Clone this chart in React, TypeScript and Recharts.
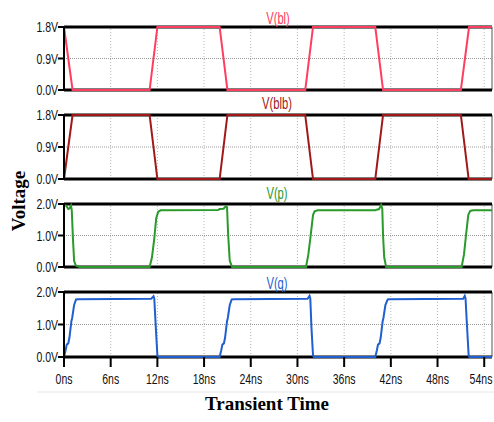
import React from 'react';
import { LineChart, Line, XAxis, YAxis, ReferenceLine } from 'recharts';

const xTicks = [0, 6, 12, 18, 24, 30, 36, 42, 48, 54];

const blTime = [0, 1.1, 11, 12, 20, 21, 31, 32, 40, 41, 51, 52.05, 55];
const blVolt = [1.8, 0, 0, 1.8, 1.8, 0, 0, 1.8, 1.8, 0, 0, 1.8, 1.8];

const blbTime = [0, 1.1, 11, 12, 20, 21, 31, 32, 40, 41, 51, 52, 55];
const blbVolt = [0, 1.8, 1.8, 0, 0, 1.8, 1.8, 0, 0, 1.8, 1.8, 0, 0];

const pTime = [0, 0.3, 0.55, 0.7, 0.9, 1.0, 1.15, 1.3, 1.5, 2.0, 11.0, 11.3, 11.6, 11.85, 12.1, 12.4, 19.8, 20.0, 20.5, 20.8, 20.95, 21.1, 21.3, 21.6, 31.1, 31.4, 31.7, 32.0, 32.2, 32.6, 40.0, 40.2, 40.5, 40.75, 40.9, 41.0, 41.15, 41.4, 51.1, 51.4, 51.7, 51.95, 52.2, 52.6, 55];
const pVolt = [1.97, 1.94, 1.84, 1.86, 1.95, 1.8, 0.9, 0.2, 0.05, 0, 0, 0.3, 0.9, 1.55, 1.75, 1.8, 1.81, 1.84, 1.85, 1.93, 1.9, 1.0, 0.2, 0, 0, 0.4, 1.0, 1.65, 1.77, 1.8, 1.8, 1.82, 1.84, 1.97, 1.85, 1.0, 0.3, 0, 0, 0.4, 1.1, 1.65, 1.78, 1.8, 1.8];

const qTime = [0, 0.2, 0.35, 0.55, 0.7, 0.95, 1.05, 1.3, 1.55, 1.8, 11.2, 11.5, 11.6, 11.8, 12.0, 12.1, 20.0, 20.2, 20.35, 20.55, 20.7, 20.95, 21.05, 21.3, 21.55, 21.8, 31.3, 31.55, 31.65, 31.8, 32.0, 32.1, 40.0, 40.2, 40.35, 40.55, 40.7, 40.95, 41.05, 41.3, 41.6, 41.8, 51.3, 51.5, 51.6, 51.8, 52.0, 52.1, 55];
const qVolt = [0, 0.2, 0.38, 0.42, 0.6, 1.1, 1.2, 1.6, 1.77, 1.78, 1.79, 1.87, 1.8, 0.9, 0.05, 0, 0, 0.2, 0.38, 0.42, 0.6, 1.1, 1.2, 1.6, 1.77, 1.78, 1.79, 1.88, 1.8, 0.9, 0.05, 0, 0, 0.2, 0.38, 0.42, 0.6, 1.1, 1.2, 1.6, 1.77, 1.78, 1.79, 1.88, 1.8, 0.9, 0.05, 0, 0];

const toData = (ts: number[], vs: number[]) => ts.map((t, i) => ({ t, v: vs[i] }));

const sansFont = "'Liberation Sans', Arial, sans-serif";
const serifFont = "'Liberation Serif', 'Times New Roman', serif";
const SQUEEZE = 0.7;

const XTick = (props: any) => {
  const { x, y, payload } = props;
  const cx = Math.min(x, 481);
  return (
    <g transform={`translate(${cx},${y})`}>
      <text transform={`scale(${SQUEEZE},1)`} textAnchor="middle" dy="0.71em" fill="#111" fontSize={15} fontFamily={sansFont}>
        {`${payload.value}ns`}
      </text>
    </g>
  );
};

const YTick = (props: any) => {
  const { x, y, payload } = props;
  return (
    <g transform={`translate(${x},${y})`}>
      <text transform={`scale(${SQUEEZE},1)`} textAnchor="end" dy="0.36em" fill="#111" fontSize={15} fontFamily={sansFont}>
        {`${Number(payload.value).toFixed(1)}V`}
      </text>
    </g>
  );
};

type PanelProps = {
  top: number;
  height: number;
  marginTop: number;
  marginBottom: number;
  data: { t: number; v: number }[];
  color: string;
  yMax: number;
  yTicks: number[];
  showX?: boolean;
};

const Panel = ({ top, height, marginTop, marginBottom, data, color, yMax, yTicks, showX }: PanelProps) => (
  <div style={{ position: 'absolute', left: 0, top, width: 494, height }}>
    <LineChart width={494} height={height} data={data} margin={{ top: marginTop, bottom: marginBottom, left: 8, right: 2 }}>
      <XAxis
        dataKey="t"
        type="number"
        domain={[0, 55]}
        ticks={xTicks}
        hide={!showX}
        height={30}
        axisLine={false}
        tickLine={{ stroke: '#000', strokeWidth: 2 }}
        tickSize={10}
        tickMargin={6}
        tick={<XTick />}
      />
      <YAxis
        type="number"
        domain={[0, yMax]}
        ticks={yTicks}
        width={56}
        axisLine={{ stroke: '#000', strokeWidth: 2 }}
        tickLine={{ stroke: '#000', strokeWidth: 2 }}
        tickSize={6}
        tickMargin={0}
        tick={<YTick />}
      />
      {xTicks.map((x) => (
        <ReferenceLine key={x} x={x} stroke="#b5b5b5" strokeDasharray="1 2" strokeWidth={1} />
      ))}
      <ReferenceLine y={yTicks[1]} stroke="#9a9a9a" strokeDasharray="1 1" strokeWidth={1} />
      <ReferenceLine x={55} stroke="#555" strokeWidth={1} />
      <ReferenceLine y={yMax} stroke="#000" strokeWidth={3} />
      <ReferenceLine y={0} stroke="#000" strokeWidth={3} />
      <Line type="linear" dataKey="v" stroke={color} strokeWidth={2} dot={false} isAnimationActive={false} />
    </LineChart>
  </div>
);

const Title = ({ x, y, color, children }: { x: number; y: number; color: string; children: string }) => (
  <g transform={`translate(${x},${y})`}>
    <text transform={`scale(${SQUEEZE},1)`} textAnchor="middle" dominantBaseline="central" fill={color} fontSize={16} fontFamily={sansFont}>
      {children}
    </text>
  </g>
);

export default function App() {
  return (
    <div style={{ position: 'absolute', left: 0, top: 0, width: 494, height: 422, background: '#fff', overflow: 'hidden' }}>
      <Panel top={0} height={100} marginTop={27} marginBottom={10} data={toData(blTime, blVolt)} color="#ff3d5e" yMax={1.8} yTicks={[0, 0.9, 1.8]} />
      <Panel top={100} height={90} marginTop={15} marginBottom={11} data={toData(blbTime, blbVolt)} color="#a01818" yMax={1.8} yTicks={[0, 0.9, 1.8]} />
      <Panel top={190} height={90} marginTop={14} marginBottom={13} data={toData(pTime, pVolt)} color="#2a9a2a" yMax={2} yTicks={[0, 1, 2]} />
      <Panel top={275} height={140} marginTop={17} marginBottom={28} data={toData(qTime, qVolt)} color="#1f5fcf" yMax={2} yTicks={[0, 1, 2]} showX />
      <svg width={494} height={422} style={{ position: 'absolute', left: 0, top: 0, pointerEvents: 'none' }}>
        <Title x={278} y={18} color="#ff3d5e">V(bl)</Title>
        <Title x={277} y={103} color="#a01818">V(blb)</Title>
        <Title x={277} y={193} color="#2a9a2a">V(p)</Title>
        <Title x={277} y={283} color="#1f5fcf">V(q)</Title>
        <text x={18} y={201} textAnchor="middle" dominantBaseline="central" transform="rotate(-90 18 201)" fill="#000" fontSize={19} fontWeight="bold" fontFamily={serifFont}>Voltage</text>
        <line x1={37} y1={392} x2={494} y2={392} stroke="#e6e6e6" strokeWidth={1} />
        <text x={267} y={410} textAnchor="middle" fill="#000" fontSize={19} fontWeight="bold" fontFamily={serifFont}>Transient Time</text>
      </svg>
    </div>
  );
}
